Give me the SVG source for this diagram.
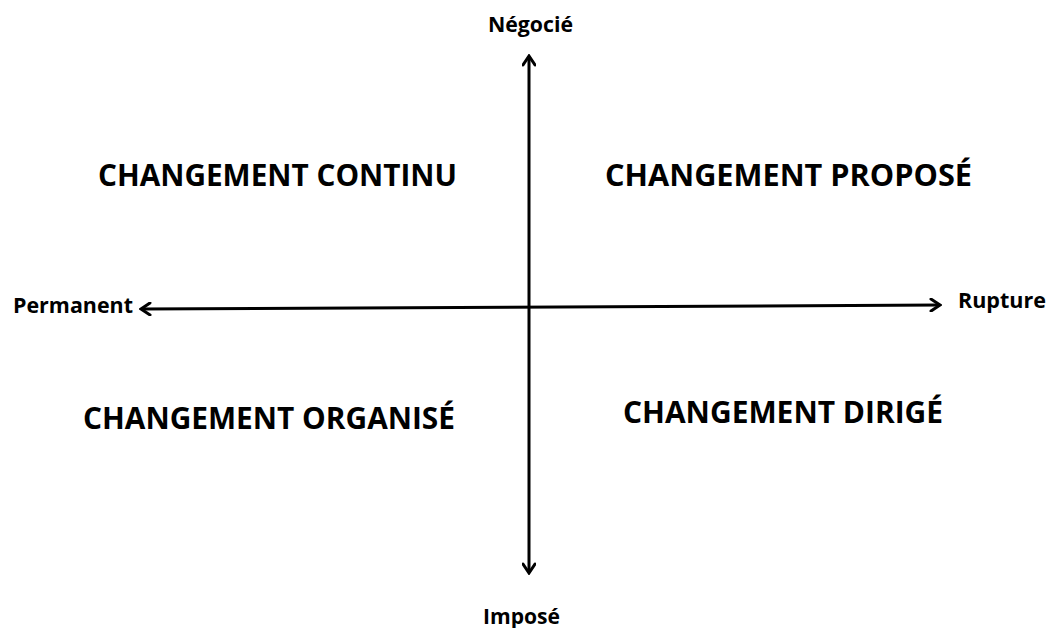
<svg xmlns="http://www.w3.org/2000/svg" width="1048" height="628" viewBox="0 0 1048 628">
<style>
text{font-family:"Open Sans","Liberation Sans",sans-serif;font-weight:bold;fill:#000}
.q{font-size:30px}
.a{font-size:21px}
.ax{stroke:#000;stroke-width:3;fill:none}
</style>
<defs>
<marker id="arr" viewBox="0 0 14 14" refX="12" refY="7" markerWidth="14" markerHeight="14" markerUnits="userSpaceOnUse" orient="auto-start-reverse">
<polyline points="3,1 12,7 3,13" fill="none" stroke="#000" stroke-width="3" stroke-linecap="round" stroke-linejoin="miter"/>
</marker>
</defs>
<rect width="1048" height="628" fill="#fff"/>
<g id="connectors">
<line class="ax" x1="529" y1="56" x2="529" y2="573" marker-start="url(#arr)" marker-end="url(#arr)"/>
<line class="ax" x1="141" y1="309" x2="940" y2="305" marker-start="url(#arr)" marker-end="url(#arr)"/>
</g>
<g id="negocie"><text class="a" x="488" y="32" textLength="85" lengthAdjust="spacingAndGlyphs">Négocié</text></g>
<g id="impose"><text class="a" x="483" y="624" textLength="77" lengthAdjust="spacingAndGlyphs">Imposé</text></g>
<g id="permanent"><text class="a" x="13" y="313" textLength="120" lengthAdjust="spacingAndGlyphs">Permanent</text></g>
<g id="rupture"><text class="a" x="958" y="308" textLength="88" lengthAdjust="spacingAndGlyphs">Rupture</text></g>
<g id="continu"><text class="q" x="98" y="186" textLength="359" lengthAdjust="spacingAndGlyphs">CHANGEMENT CONTINU</text></g>
<g id="propose"><text class="q" x="605" y="186" textLength="367" lengthAdjust="spacingAndGlyphs">CHANGEMENT PROPOSÉ</text></g>
<g id="organise"><text class="q" x="83" y="429" textLength="372" lengthAdjust="spacingAndGlyphs">CHANGEMENT ORGANISÉ</text></g>
<g id="dirige"><text class="q" x="623" y="423" textLength="320" lengthAdjust="spacingAndGlyphs">CHANGEMENT DIRIGÉ</text></g>
</svg>
